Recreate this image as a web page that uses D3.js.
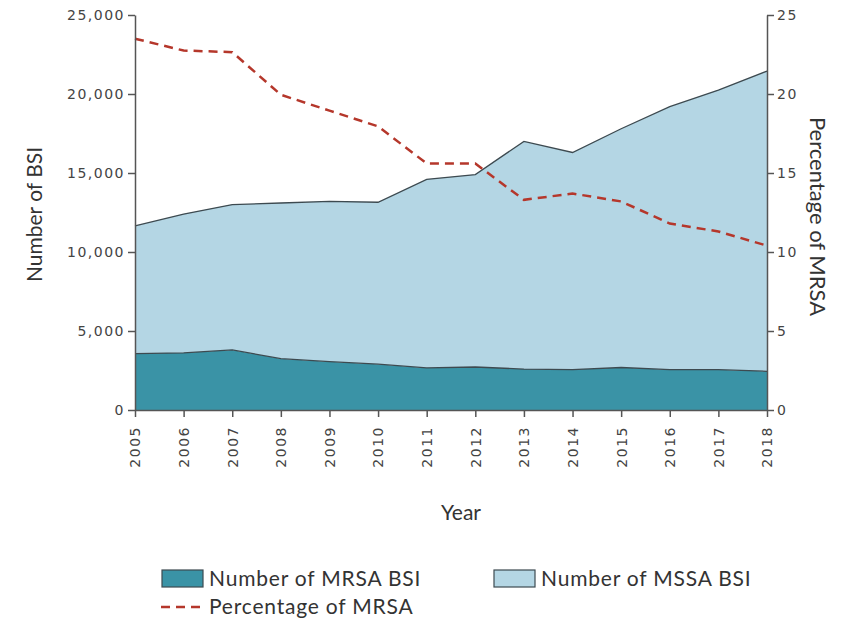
<!DOCTYPE html>
<meta charset="utf-8">
<style>
body { margin: 0; background: #fff; }
.axis path, .axis line { stroke: #555; stroke-width: 1.5px; }
.axis text { fill: #444; font-family: "DejaVu Sans", sans-serif; font-size: 14px; letter-spacing: 1.5px; }
.title { fill: #333; font-family: "Lato", sans-serif; font-size: 21px; }
.legend text { fill: #333; font-family: "Lato", sans-serif; font-size: 21px; letter-spacing: 0.8px; }
</style>
<body>
<svg width="842" height="622" id="chart"></svg>
<script src="https://d3js.org/d3.v7.min.js"></script>
<script>

var years = [2005, 2006, 2007, 2008, 2009, 2010, 2011, 2012, 2013, 2014, 2015, 2016, 2017, 2018];
var mrsa = [3570, 3620, 3800, 3250, 3060, 2900, 2660, 2720, 2590, 2560, 2690, 2550, 2550, 2450];
// total BSI (MRSA + MSSA) read from top of the stacked area
var total = [11650, 12400, 13000, 13100, 13200, 13150, 14600, 14900, 17000, 16300, 17800, 19200, 20250, 21450];
var mssa = total.map(function(t, i) { return t - mrsa[i]; });
var pct = [23.5, 22.75, 22.65, 19.95, 18.95, 17.95, 15.6, 15.6, 13.3, 13.7, 13.2, 11.8, 11.3, 10.4];

var leftTicks = [0, 5000, 10000, 15000, 20000, 25000];
var rightTicks = [0, 5, 10, 15, 20, 25];

var svg = d3.select("svg");
var margin = {left: 135, right: 75, top: 15, bottom: 212};
var width = 842 - margin.left - margin.right,
    height = 622 - margin.top - margin.bottom;

var g = svg.append("g").attr("transform", "translate(" + margin.left + "," + margin.top + ")");

var x = d3.scaleLinear().domain([2005, 2018]).range([0, width]);
var y = d3.scaleLinear().domain([0, 25000]).range([height, 0]);
var y2 = d3.scaleLinear().domain([0, 25]).range([height, 0]);

var data = years.map(function(yr, i) { return {year: yr, mrsa: mrsa[i], mssa: mssa[i], pct: pct[i]}; });
var stack = d3.stack().keys(["mrsa", "mssa"])(data);
var colors = {mrsa: "#3a93a6", mssa: "#b4d6e4"};

var area = d3.area()
    .x(function(d) { return x(d.data.year); })
    .y0(function(d) { return y(d[0]); })
    .y1(function(d) { return y(d[1]); });

g.selectAll(".layer")
    .data(stack)
    .enter().append("path")
    .attr("class", "layer")
    .attr("fill", function(d) { return colors[d.key]; })
    .attr("d", area);

// outline on top of each layer
g.selectAll(".edge")
    .data(stack)
    .enter().append("path")
    .attr("fill", "none")
    .attr("stroke", "#3d4a50")
    .attr("stroke-width", 1.3)
    .attr("d", d3.line()
        .x(function(d) { return x(d.data.year); })
        .y(function(d) { return y(d[1]); }));

g.append("path")
    .datum(data)
    .attr("fill", "none")
    .attr("stroke", "#b5372b")
    .attr("stroke-width", 2.5)
    .attr("stroke-dasharray", "9,6")
    .attr("d", d3.line()
        .x(function(d) { return x(d.year); })
        .y(function(d) { return y2(d.pct); }));

var xAxis = g.append("g")
    .attr("class", "axis")
    .attr("transform", "translate(0," + height + ")")
    .call(d3.axisBottom(x).tickValues(years).tickFormat(d3.format("d")).tickSize(7).tickSizeOuter(0));
xAxis.selectAll("text")
    .attr("transform", "rotate(-90)")
    .attr("text-anchor", "end")
    .attr("x", -16)
    .attr("y", 0)
    .attr("dy", "0.35em");

g.append("g")
    .attr("class", "axis")
    .call(d3.axisLeft(y).tickValues(leftTicks).tickFormat(d3.format(",")).tickSize(7).tickSizeOuter(0));

g.append("g")
    .attr("class", "axis")
    .attr("transform", "translate(" + width + ",0)")
    .call(d3.axisRight(y2).tickValues(rightTicks).tickSize(7).tickSizeOuter(0));

svg.append("text")
    .attr("class", "title")
    .attr("transform", "translate(42," + (margin.top + height / 2 + 2) + ") rotate(-90)")
    .attr("text-anchor", "middle")
    .text("Number of BSI");

svg.append("text")
    .attr("class", "title")
    .style("font-size", "22px")
    .attr("transform", "translate(810," + (margin.top + height / 2 + 4) + ") rotate(90)")
    .attr("text-anchor", "middle")
    .text("Percentage of MRSA");

svg.append("text")
    .attr("class", "title")
    .attr("x", margin.left + width / 2 + 10)
    .attr("y", 520)
    .attr("text-anchor", "middle")
    .text("Year");

// legend
var legend = svg.append("g").attr("class", "legend");
var items = [
    {label: "Number of MRSA BSI", fill: colors.mrsa, x: 162, y: 570},
    {label: "Number of MSSA BSI", fill: colors.mssa, x: 494, y: 570}
];
items.forEach(function(it) {
    legend.append("rect")
        .attr("x", it.x).attr("y", it.y)
        .attr("width", 41).attr("height", 17)
        .attr("fill", it.fill)
        .attr("stroke", "#3d4a50").attr("stroke-width", 1.2);
    legend.append("text")
        .attr("x", it.x + 47).attr("y", it.y + 16)
        .text(it.label);
});
legend.append("line")
    .attr("x1", 161).attr("x2", 204)
    .attr("y1", 607).attr("y2", 607)
    .attr("stroke", "#b5372b").attr("stroke-width", 2.5)
    .attr("stroke-dasharray", "9,6");
legend.append("text")
    .attr("x", 209).attr("y", 614)
    .text("Percentage of MRSA");

</script>
</body>
